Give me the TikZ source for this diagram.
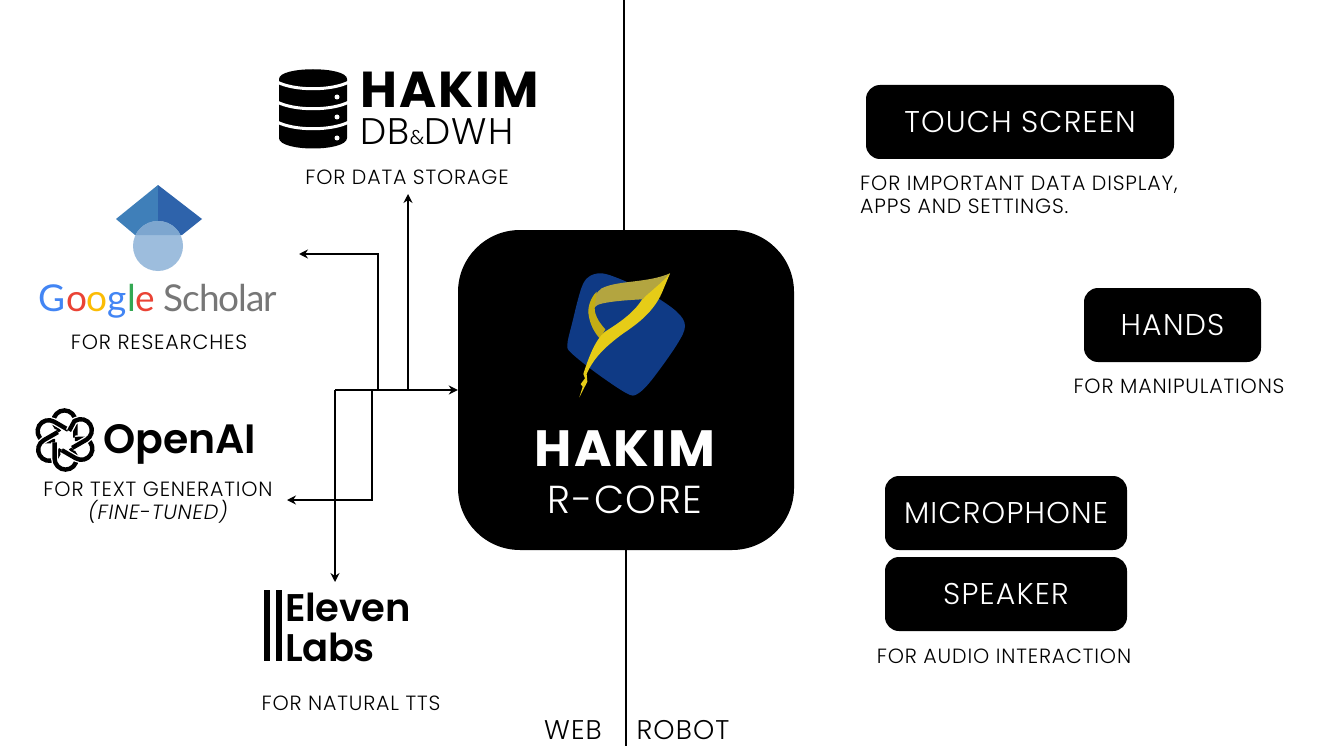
\documentclass[tikz,border=0pt]{standalone}
\usepackage{fontspec}
\setmainfont{Poppins Light}[BoldFont={Poppins Bold},ItalicFont={Poppins Light Italic},LetterSpace=4]
\newfontfamily\gsfont{Lato}[LetterSpace=-3]
\newfontfamily\elfont{Poppins SemiBold}[LetterSpace=-1]
\newfontfamily\oaifont{Poppins SemiBold}
\usetikzlibrary{arrows.meta,positioning}
\definecolor{gsblue}{HTML}{4285F4}
\definecolor{gsred}{HTML}{EA4335}
\definecolor{gsyellow}{HTML}{FBBC05}
\definecolor{gsgreen}{HTML}{34A853}
\definecolor{gsgray}{HTML}{777777}
\definecolor{capleft}{HTML}{3F7FB9}
\definecolor{capright}{HTML}{2E63AB}
\definecolor{capball}{HTML}{9DBDDD}
\definecolor{capover}{HTML}{7DA6CF}
\definecolor{hakimblue}{HTML}{0F3A85}
\definecolor{hakimyellow}{HTML}{E6CC17}
\definecolor{hakimolive}{HTML}{B3A540}
\newcommand{\oaiband}{(9,-2) -- (9,-16) arc[radius=9.5,start angle=0,end angle=-180] -- (-10,-15) -- (-5,-7)}
\tikzset{
  blackbox/.style={fill=black,text=white,rounded corners=14pt,inner sep=0pt,font=\fontsize{30}{30}\selectfont},
  caption/.style={inner sep=0pt,font=\fontsize{20.6}{20.6}\selectfont},
  side/.style={inner sep=0pt,font=\fontsize{27}{27}\selectfont},
  link/.style={line width=1.9pt,-{Stealth[length=9pt,width=9pt]}},
}
\begin{document}
\begin{tikzpicture}[x=1pt,y=-1pt]
  \useasboundingbox (0,0) rectangle (1329,746);
  \fill[white] (0,0) rectangle (1329,746);

  % centre block
  \node[fill=black,rounded corners=62pt,minimum width=336pt,minimum height=320pt] (core) at (626,390) {};
  \node[text=white,font=\fontsize{51}{51}\selectfont\bfseries] (corename) at (625,449) {HAKIM};
  \node[text=white,font=\fontsize{39}{39}\selectfont] (coresub) at (625,500) {R-CORE};

  % web / robot divider
  \coordinate (top) at (623.5,0);
  \coordinate (bot) at (626,746);
  \draw[line width=2pt] (top) -- (core.north -| top);
  \draw[line width=2pt] (core.south -| bot) -- (bot);
  \node[side] (web) at (573,730) {WEB};
  \node[side] (robot) at (683,730) {ROBOT};

  % logo in the centre block
  \begin{scope}[shift={(530,250)},scale=1/3]
    \fill[hakimblue] plot[smooth cycle,tension=0.55] coordinates {(205,70) (265,85) (360,130) (440,185) (465,228) (440,285) (365,390) (322,432) (290,430) (200,370) (125,310) (112,285) (125,225) (160,100)};
    \fill[hakimolive] (420,70) .. controls (350,100) and (265,90) .. (215,115)
      .. controls (190,135) and (180,160) .. (176,190) -- (196,170)
      .. controls (205,155) and (300,150) .. (335,148) -- (395,115) -- cycle;
    \fill[hakimyellow!85!black] (200,125) .. controls (180,145) and (172,175) .. (176,195)
      .. controls (180,225) and (195,250) .. (210,266) -- (226,238)
      .. controls (205,215) and (190,190) .. (195,165) -- cycle;
    \fill[hakimyellow] (420,70) .. controls (395,100) and (360,125) .. (335,150)
      .. controls (310,190) and (265,220) .. (225,245)
      .. controls (195,270) and (175,325) .. (160,372)
      -- (165,385) -- (152,402) -- (158,410) -- (148,442)
      -- (172,395) -- (170,372)
      .. controls (190,325) and (225,290) .. (280,250)
      .. controls (325,220) and (370,185) .. (395,130) -- cycle;
  \end{scope}

  % database
  \fill[black] (279,79) .. controls (279,66) and (347,66) .. (347,79) -- (347,138)
    .. controls (347,152) and (279,152) .. (279,138) -- cycle;
  \foreach \y in {82,102,122}
    \draw[white,line width=3pt] (277,\y) .. controls (295,{\y+9}) and (331,{\y+9}) .. (349,\y);
  \foreach \y in {97,117,138}
    \fill[white] (337,\y) circle (2.5);
  \node[anchor=west,inner sep=0pt,font=\fontsize{50.5}{50.5}\selectfont\bfseries] (dbname) at (360,90) {HAKIM};
  \node[anchor=west,inner sep=0pt,font=\fontsize{37}{37}\selectfont] (dbsub) at (360,132) {DB{\fontsize{20}{20}\selectfont\&}DWH};
  \node[caption] (dbcap) at (407,177) {FOR DATA STORAGE};

  % scholar
  \fill[capleft] (158,185) -- (116,219) -- (135,235) -- (158,235) -- cycle;
  \fill[capright] (158,185) -- (202,219) -- (182,235) -- (158,235) -- cycle;
  \fill[capball] (158,246) circle (25);
  \begin{scope}
    \clip (158,246) circle (25);
    \fill[capover] (116,219) -- (135,235) -- (182,235) -- (202,219) -- (158,185) -- cycle;
  \end{scope}
  \node[inner sep=0pt,font=\gsfont\fontsize{37}{37}\selectfont] (gsname) at (158,301)
    {\textcolor{gsblue}{G}\textcolor{gsred}{o}\textcolor{gsyellow}{o}\textcolor{gsblue}{g}\textcolor{gsgreen}{l}\textcolor{gsred}{e} \textcolor{gsgray}{Scholar}};
  \node[caption] (gscap) at (159,342) {FOR RESEARCHES};

  % openai
  \begin{scope}[shift={(65,440)},scale=1.16]
    \foreach \a in {0,60,...,300} {
      \draw[white,line width=7pt,rotate=\a] \oaiband;
      \draw[black,line width=4.4pt,rotate=\a] \oaiband;
    }
  \end{scope}
  \node[anchor=west,inner sep=0pt,font=\oaifont\fontsize{41}{41}\selectfont] (oainame) at (103,444) {OpenAI};
  \node[caption] (oaicap) at (158,489) {FOR TEXT GENERATION};
  \node[caption,font=\fontsize{20.6}{20.6}\selectfont\itshape] (oaifine) at (158,512) {(FINE-TUNED)};

  % elevenlabs
  \fill[black] (263.5,590) rectangle (269.5,661);
  \fill[black] (276,590) rectangle (282,661);
  \node[anchor=west,inner sep=0pt,font=\elfont\fontsize{38.5}{38.5}\selectfont] (elname) at (285,607) {Eleven};
  \node[anchor=west,inner sep=0pt,font=\elfont\fontsize{38.5}{38.5}\selectfont] (elsub) at (285,647) {Labs};
  \node[caption] (elcap) at (351,703) {FOR NATURAL TTS};

  % links
  \coordinate (jmain) at (335,390);
  \coordinate (jtts) at (372,390);
  \coordinate (jgs) at (378,390);
  \coordinate (jdb) at (408,390);
  \coordinate (gsend) at (299,254);
  \coordinate (oaiend) at (287,500);
  \coordinate (elend) at (335,582);
  \coordinate (dbend) at (408,194);
  \draw[link] (jmain) -- (core.west);
  \draw[link] (jdb) -- (dbend);
  \draw[link] (jgs) |- (gsend);
  \draw[link] (jtts) |- (oaiend);
  \draw[link] (jmain) -- (elend);

  % robot side
  \node[blackbox,minimum width=308pt,minimum height=74pt] (touch) at (1020,122) {TOUCH SCREEN};
  \node[caption,anchor=north west,align=left,font=\fontsize{20.6}{23}\selectfont] (touchcap) at (860,176) {FOR IMPORTANT DATA DISPLAY,\\APPS AND SETTINGS.};
  \node[blackbox,minimum width=177pt,minimum height=74pt] (hands) at (1172.5,325) {HANDS};
  \node[caption] (handscap) at (1179,386) {FOR MANIPULATIONS};
  \node[blackbox,minimum width=242pt,minimum height=74pt] (mic) at (1006,513) {MICROPHONE};
  \node[blackbox,minimum width=242pt,minimum height=74pt] (spk) at (1006,594) {SPEAKER};
  \node[caption] (spkcap) at (1004,656) {FOR AUDIO INTERACTION};
\end{tikzpicture}
\end{document}
